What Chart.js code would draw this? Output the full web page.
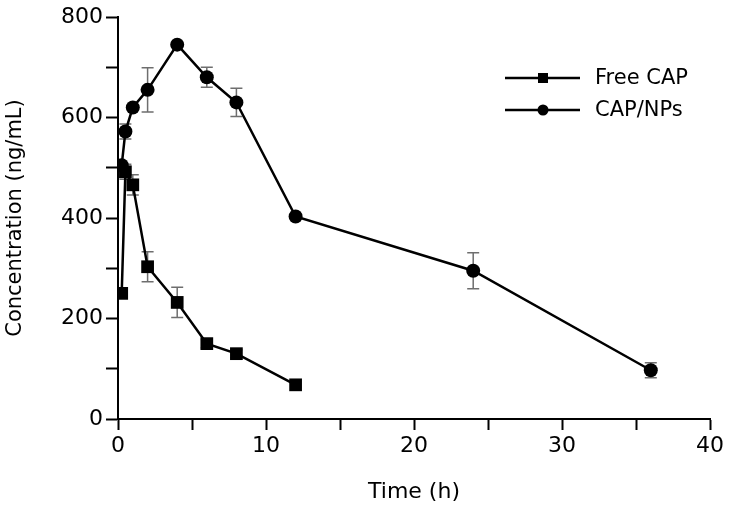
<!DOCTYPE html>
<html>
<head>
<meta charset="utf-8">
<script src="https://cdn.jsdelivr.net/npm/chart.js@4.4.1/dist/chart.umd.min.js"></script>
<style>
  html, body { margin: 0; padding: 0; background: #fff; }
  #wrap { width: 740px; height: 509px; }
</style>
</head>
<body>
<div id="wrap"><canvas id="chart" width="740" height="509"></canvas></div>
<script>
// ---------------------------------------------------------
// DATA
// ---------------------------------------------------------
const SERIES_NAMES = ["Free CAP", "CAP/NPs"];

const TIMES_FREE = [0.25, 0.5, 1, 2, 4, 6, 8, 12];
const CONC_FREE  = [250, 492, 466, 303, 232, 150, 130, 68];
const SD_FREE    = [0, 15, 20, 30, 30, 8, 8, 0];

const TIMES_NPS = [0.25, 0.5, 1, 2, 4, 6, 8, 12, 24, 36];
const CONC_NPS  = [505, 572, 620, 655, 745, 680, 630, 403, 295, 97];
const SD_NPS    = [0, 15, 0, 44, 0, 20, 28, 0, 36, 15];

const X_MAJOR = [0, 10, 20, 30, 40];
const Y_MAJOR = [0, 200, 400, 600, 800];

const FONT = "'DejaVu Sans', sans-serif";

function toPoints(xs, ys) {
  return xs.map((x, i) => ({ x: x, y: ys[i] }));
}

// ---------------------------------------------------------
// PLUGINS: error bars + legend with line/marker samples
// ---------------------------------------------------------
const errorBars = {
  id: "errorBars",
  beforeDatasetsDraw(chart) {
    const ctx = chart.ctx;
    const yScale = chart.scales.y;
    ctx.save();
    ctx.strokeStyle = "#6e6e6e";
    ctx.lineWidth = 1.5;
    chart.data.datasets.forEach((ds, di) => {
      const meta = chart.getDatasetMeta(di);
      ds.errors.forEach((sd, i) => {
        if (!sd) return;
        const pt = meta.data[i];
        const v = ds.data[i].y;
        const yTop = yScale.getPixelForValue(v + sd);
        const yBot = yScale.getPixelForValue(v - sd);
        ctx.beginPath();
        ctx.moveTo(pt.x, yTop); ctx.lineTo(pt.x, yBot);
        ctx.moveTo(pt.x - 6, yTop); ctx.lineTo(pt.x + 6, yTop);
        ctx.moveTo(pt.x - 6, yBot); ctx.lineTo(pt.x + 6, yBot);
        ctx.stroke();
      });
    });
    ctx.restore();
  }
};

const sampleLegend = {
  id: "sampleLegend",
  afterDraw(chart) {
    const ctx = chart.ctx;
    ctx.save();
    chart.data.datasets.forEach((ds, i) => {
      const y = 78 + i * 32;
      ctx.strokeStyle = "#000";
      ctx.lineWidth = 2.5;
      ctx.beginPath();
      ctx.moveTo(505, y); ctx.lineTo(580, y);
      ctx.stroke();
      ctx.fillStyle = "#000";
      if (ds.pointStyle === "rect") {
        ctx.fillRect(538, y - 5, 10, 10);
      } else {
        ctx.beginPath();
        ctx.arc(543, y, 5.5, 0, Math.PI * 2);
        ctx.fill();
      }
      ctx.font = "21px " + FONT;
      ctx.textBaseline = "middle";
      ctx.fillText(ds.label, 595, y + 1);
    });
    ctx.restore();
  }
};

// ---------------------------------------------------------
// CHART
// ---------------------------------------------------------
new Chart(document.getElementById("chart"), {
  type: "line",
  data: {
    datasets: [
      {
        label: SERIES_NAMES[0],
        data: toPoints(TIMES_FREE, CONC_FREE),
        errors: SD_FREE,
        borderColor: "#000",
        backgroundColor: "#000",
        borderWidth: 2.5,
        pointStyle: "rect",
        pointRadius: 9,
        pointBorderWidth: 0,
        fill: false
      },
      {
        label: SERIES_NAMES[1],
        data: toPoints(TIMES_NPS, CONC_NPS),
        errors: SD_NPS,
        borderColor: "#000",
        backgroundColor: "#000",
        borderWidth: 2.5,
        pointStyle: "circle",
        pointRadius: 7,
        pointBorderWidth: 0,
        fill: false
      }
    ]
  },
  options: {
    responsive: false,
    animation: false,
    layout: { padding: { top: 17, right: 30, left: 0, bottom: 0 } },
    plugins: {
      legend: { display: false },
      tooltip: { enabled: false }
    },
    scales: {
      x: {
        type: "linear",
        min: 0,
        max: 40,
        afterFit: s => { s.height = 90; },
        ticks: {
          stepSize: 5,
          autoSkip: false,
          maxRotation: 0,
          padding: 3,
          color: "#000",
          font: { family: FONT, size: 22 },
          callback: v => X_MAJOR.includes(v) ? v : ""
        },
        grid: { drawOnChartArea: false, tickLength: 11, tickColor: "#000", tickWidth: 2 },
        border: { color: "#000", width: 2 },
        title: {
          display: true,
          text: "Time (h)",
          color: "#000",
          font: { family: FONT, size: 22 },
          padding: { top: 0, bottom: 4 }
        }
      },
      y: {
        min: 0,
        max: 800,
        afterFit: s => { s.width = 118; },
        ticks: {
          stepSize: 100,
          autoSkip: false,
          padding: 3,
          color: "#000",
          font: { family: FONT, size: 22 },
          callback: v => Y_MAJOR.includes(v) ? v : ""
        },
        grid: { drawOnChartArea: false, tickLength: 12, tickColor: "#000", tickWidth: 2 },
        border: { color: "#000", width: 2 },
        title: {
          display: true,
          text: "Concentration (ng/mL)",
          color: "#000",
          font: { family: FONT, size: 21 },
          padding: { top: 3, bottom: 0 }
        }
      }
    }
  },
  plugins: [errorBars, sampleLegend]
});
</script>
</body>
</html>
